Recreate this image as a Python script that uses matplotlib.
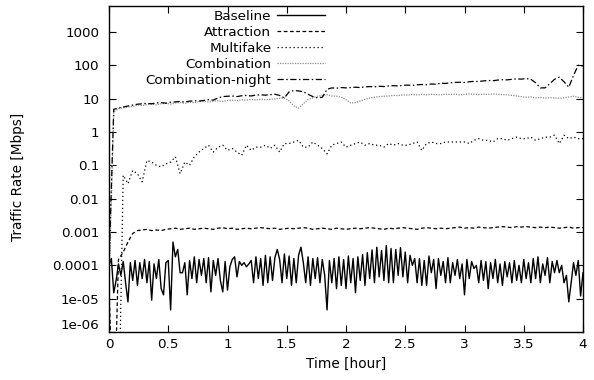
import numpy as np
import matplotlib
matplotlib.use("Agg")
import matplotlib.pyplot as plt

# time [hour]: baseline sampled every 0.02 h, the other runs every 0.04 h
t_fine = np.linspace(0, 4, 201)
t_coarse = np.linspace(0, 4, 101)

# traffic rates
# baseline in units of 1e-4 Mbps
baseline_e4 = [
    1.0, 1.6, 0.15, 0.35, 1.1, 0.5, 1.3, 0.3, 0.08, 1.2,
    0.35, 1.4, 0.25, 1.2, 0.4, 1.5, 0.3, 1.3, 0.09, 1.1,
    0.4, 1.5, 0.2, 0.13, 1.2, 1.4, 0.046, 5.0, 1.8, 3.0,
    0.6, 0.6, 1.2, 0.13, 1.4, 0.4, 1.8, 0.3, 1.5, 0.5,
    1.6, 0.3, 1.7, 0.16, 1.4, 0.5, 1.6, 0.35, 0.16, 1.3,
    0.18, 0.9, 1.5, 1.8, 0.45, 1.3, 1.0, 1.2, 0.9, 1.1,
    1.4, 0.3, 1.8, 0.4, 1.6, 0.25, 2.0, 0.3, 1.8, 0.35,
    1.7, 3.0, 1.5, 0.3, 2.2, 0.4, 1.9, 0.25, 1.6, 0.3,
    2.0, 3.5, 1.2, 0.3, 1.8, 0.25, 1.6, 0.4, 1.7, 0.3,
    1.5, 0.5, 0.046, 1.4, 0.3, 1.6, 0.2, 1.8, 0.25, 1.5,
    0.2, 1.9, 0.3, 1.6, 0.15, 1.8, 0.35, 2.1, 0.25, 2.4,
    0.4, 2.9, 0.3, 3.5, 0.45, 2.8, 0.35, 3.9, 0.3, 3.2,
    0.3, 3.0, 0.5, 3.4, 0.45, 2.5, 0.3, 2.0, 1.0, 1.6,
    0.3, 1.6, 0.25, 1.4, 0.25, 1.9, 0.6, 1.5, 0.2, 1.6,
    0.5, 1.3, 0.3, 1.7, 0.3, 1.2, 0.5, 1.5, 0.4, 1.1,
    0.13, 1.5, 0.4, 1.3, 0.8, 1.0, 0.3, 1.4, 0.35, 1.3,
    0.2, 1.2, 0.4, 1.5, 0.3, 1.1, 0.25, 1.3, 0.45, 1.2,
    0.3, 1.4, 0.35, 1.0, 0.3, 1.5, 0.4, 1.2, 0.3, 1.6,
    0.4, 1.8, 0.3, 1.1, 0.5, 1.7, 0.3, 1.3, 0.6, 1.4,
    0.6, 1.0, 0.3, 0.5, 0.08, 0.3, 1.2, 0.5, 1.4, 0.12,
    0.6,
]
# attraction in units of 1e-3 Mbps (1e-6 = drops off the axis)
attraction_e3 = [
    0.02, 1e-6, 0.15, 0.25, 0.5, 0.9, 1.1, 1.15, 1.2, 1.1,
    1.15, 1.1, 1.2, 1.25, 1.3, 1.2, 1.25, 1.3, 1.2, 1.25,
    1.3, 1.25, 1.2, 1.3, 1.35, 1.25, 1.3, 1.2, 1.25, 1.3,
    1.25, 1.3, 1.35, 1.3, 1.25, 1.3, 1.2, 1.25, 1.3, 1.25,
    1.3, 1.35, 1.3, 1.2, 1.25, 1.3, 1.25, 1.2, 1.3, 1.25,
    1.2, 1.25, 1.3, 1.25, 1.3, 1.35, 1.3, 1.25, 1.2, 1.3,
    1.25, 1.3, 1.35, 1.3, 1.25, 1.2, 1.3, 1.35, 1.3, 1.25,
    1.3, 1.25, 1.3, 1.35, 1.4, 1.3, 1.35, 1.3, 1.4, 1.35,
    1.3, 1.35, 1.4, 1.45, 1.4, 1.35, 1.45, 1.4, 1.45, 1.4,
    1.35, 1.4, 1.35, 1.4, 1.35, 1.3, 1.35, 1.4, 1.3, 1.35,
    1.35,
]
# Mbps
multifake = [
    1e-9, 1e-9, 1e-9, 0.05, 0.028, 0.07, 0.056, 0.032, 0.14, 0.125,
    0.1, 0.09, 0.11, 0.125, 0.18, 0.056, 0.125, 0.1, 0.18, 0.25,
    0.32, 0.4, 0.25, 0.35, 0.4, 0.28, 0.32, 0.25, 0.2, 0.4,
    0.28, 0.35, 0.35, 0.4, 0.32, 0.4, 0.25, 0.45, 0.45, 0.5,
    0.56, 0.35, 0.35, 0.5, 0.4, 0.32, 0.22, 0.4, 0.45, 0.5,
    0.35, 0.4, 0.45, 0.5, 0.4, 0.45, 0.4, 0.4, 0.35, 0.45,
    0.4, 0.45, 0.4, 0.4, 0.45, 0.5, 0.28, 0.45, 0.5, 0.45,
    0.45, 0.5, 0.5, 0.5, 0.5, 0.5, 0.45, 0.56, 0.63, 0.56,
    0.56, 0.5, 0.63, 0.63, 0.56, 0.63, 0.7, 0.63, 0.63, 0.7,
    0.56, 0.63, 0.7, 0.7, 0.8, 0.45, 0.8, 0.63, 0.7, 0.63,
    0.63,
]
combination = [
    2e-5, 4.0, 5.0, 5.3, 5.6, 5.8, 6.4, 6.2, 6.6, 6.8,
    6.5, 7.0, 7.2, 6.9, 7.4, 7.6, 7.2, 7.8, 7.5, 8.0,
    8.3, 7.9, 8.4, 8.6, 8.2, 8.8, 9.0, 8.7, 9.3, 9.0,
    9.4, 9.2, 9.6, 9.3, 9.5, 9.8, 10.2, 10.5, 8.5, 6.0,
    5.2, 7.0, 9.5, 10.5, 11.8, 12.5, 13.2, 12.0, 11.8, 11.0,
    9.3, 7.4, 7.6, 8.5, 9.5, 10.5, 11.0, 11.5, 11.8, 12.0,
    12.5, 12.3, 13.0, 12.8, 13.2, 13.0, 13.4, 13.0, 13.5, 13.2,
    13.0, 13.6, 13.3, 13.5, 13.0, 13.4, 13.8, 13.5, 13.2, 13.6,
    13.4, 13.8, 13.5, 13.2, 13.0, 12.5, 12.0, 11.5, 11.0, 11.2,
    10.5, 10.8, 10.4, 10.6, 10.5, 10.3, 10.6, 11.2, 11.8, 11.0,
    10.5,
]
combination_night = [
    1e-4, 4.8, 5.2, 5.6, 6.0, 6.4, 6.8, 7.0, 7.2, 7.0,
    7.4, 7.6, 7.3, 7.8, 8.0, 8.2, 7.9, 8.4, 8.6, 8.5,
    8.8, 9.3, 9.0, 10.5, 11.5, 11.8, 12.0, 11.5, 12.2, 12.5,
    12.0, 12.8, 13.0, 12.7, 13.2, 13.5, 12.5, 10.5, 16.0, 17.5,
    17.0, 16.0, 13.5, 11.5, 10.5, 11.0, 19.0, 21.0, 20.5, 21.5,
    21.0, 21.5, 22.0, 21.5, 22.5, 23.0, 22.5, 23.5, 23.0, 24.0,
    24.5, 24.0, 25.0, 25.5, 25.0, 26.0, 26.5, 26.0, 27.5, 27.0,
    29.0, 28.5, 30.0, 30.5, 31.0, 30.5, 32.0, 33.0, 32.5, 34.0,
    35.0, 34.5, 36.0, 37.0, 36.5, 38.0, 39.0, 38.5, 40.0, 38.0,
    30.0, 21.0, 21.0, 28.0, 38.0, 44.0, 32.0, 22.0, 50.0, 100.0,
    95.0,
]

yticks = [1e-6, 1e-5, 1e-4, 1e-3, 1e-2, 1e-1, 1, 10, 100, 1000]
ytick_labels = ["1e-06", "1e-05", "0.0001", "0.001", "0.01", "0.1",
                "1", "10", "100", "1000"]
xticks = [0, 0.5, 1, 1.5, 2, 2.5, 3, 3.5, 4]
xtick_labels = ["0", "0.5", "1", "1.5", "2", "2.5", "3", "3.5", "4"]

plt.rcParams["font.family"] = "DejaVu Sans"
plt.rcParams["font.size"] = 9.7

fig = plt.figure(figsize=(5.94, 3.8), dpi=100)
ax = fig.add_axes([109 / 594, 48 / 380, 474 / 594, 326 / 380])

ax.plot(t_fine, np.array(baseline_e4) * 1e-4, color="black", lw=1.0,
        label="Baseline")
ax.plot(t_coarse, np.array(attraction_e3) * 1e-3, color="black", lw=0.9,
        ls=(0, (3, 2)), label="Attraction")
ax.plot(t_coarse, multifake, color="black", lw=0.9, ls=(0, (1, 2.2)),
        label="Multifake")
ax.plot(t_coarse, combination, color="#8c8c8c", lw=0.9, ls=(0, (1, 1)),
        label="Combination")
ax.plot(t_coarse, combination_night, color="black", lw=0.9,
        ls=(0, (5, 2, 1.2, 2)), label="Combination-night")

ax.set_yscale("log")
ax.set_xlim(0, 4)
ax.set_ylim(1e-6, 6000)
ax.set_yticks(yticks)
ax.set_yticklabels(ytick_labels)
ax.yaxis.set_minor_locator(matplotlib.ticker.NullLocator())
ax.set_xticks(xticks)
ax.set_xticklabels(xtick_labels)
ax.tick_params(which="major", direction="in", length=5, width=0.8,
               top=True, right=True)
ax.tick_params(axis="y", pad=7)
ax.tick_params(axis="x", pad=4)
ax.get_yticklabels()[0].set_va("bottom")
for s in ax.spines.values():
    s.set_linewidth(1.0)

ax.set_xlabel("Time [hour]", fontsize=9.8)
ax.set_ylabel("Traffic Rate [Mbps]", fontsize=9.8)
ax.xaxis.set_label_coords(0.5, -0.075)
ax.yaxis.set_label_coords(-0.178, 0.475)

ax.legend(loc="upper right", bbox_to_anchor=(0.456, 0.988), frameon=False,
          markerfirst=False, borderpad=0, borderaxespad=0, handlelength=3.6,
          handletextpad=0.4, labelspacing=0.22)

fig.savefig("out.png", dpi=100)
